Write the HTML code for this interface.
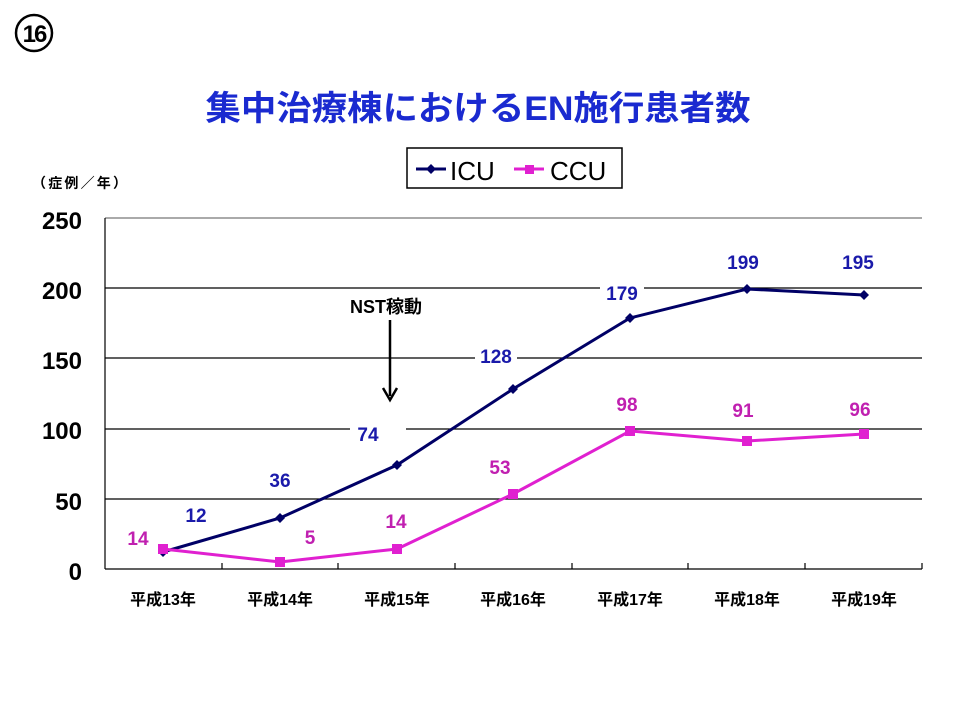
<!DOCTYPE html>
<html><head><meta charset="utf-8"><style>
body{margin:0;background:#fff;width:960px;height:720px;overflow:hidden}
svg{display:block}
text{font-family:"Liberation Sans","Noto Sans CJK JP",sans-serif}
</style></head><body>
<svg width="960" height="720" viewBox="0 0 960 720">
<circle cx="34" cy="33" r="18" fill="none" stroke="#000" stroke-width="2.5"/>
<text x="34" y="42" font-size="24" font-weight="bold" text-anchor="middle" letter-spacing="-2">16</text>
<text x="478" y="120" font-size="34" font-weight="bold" fill="#1a2ad0" text-anchor="middle" textLength="545" lengthAdjust="spacingAndGlyphs">集中治療棟におけるEN施行患者数</text>
<rect x="407" y="148" width="215" height="40" fill="#fff" stroke="#000" stroke-width="1.5"/>
<line x1="416" y1="169" x2="446" y2="169" stroke="#000066" stroke-width="3"/>
<path d="M431 164 L436 169 L431 174 L426 169Z" fill="#000066"/>
<text x="450" y="180" font-size="26" fill="#000">ICU</text>
<line x1="514" y1="169" x2="544" y2="169" stroke="#e020d0" stroke-width="3"/>
<rect x="525" y="165" width="9" height="9" fill="#e020d0"/>
<text x="550" y="180" font-size="26" fill="#000">CCU</text>
<text x="32" y="188" font-size="14" font-weight="bold" textLength="95">（症例／年）</text>
<g stroke="#000" stroke-width="1.2">
<line x1="105" y1="218" x2="922" y2="218" stroke="#777"/>
<line x1="105" y1="288" x2="922" y2="288"/>
<line x1="105" y1="358" x2="922" y2="358"/>
<line x1="105" y1="429" x2="922" y2="429"/>
<line x1="105" y1="499" x2="922" y2="499"/>
<line x1="105" y1="569" x2="922" y2="569"/>
<line x1="105" y1="218" x2="105" y2="569"/>
<line x1="222" y1="563" x2="222" y2="569"/><line x1="338" y1="563" x2="338" y2="569"/><line x1="455" y1="563" x2="455" y2="569"/><line x1="572" y1="563" x2="572" y2="569"/><line x1="688" y1="563" x2="688" y2="569"/><line x1="805" y1="563" x2="805" y2="569"/><line x1="922" y1="563" x2="922" y2="569"/>
</g>
<g font-size="24" font-weight="bold" text-anchor="end">
<text x="82" y="229">250</text><text x="82" y="299">200</text><text x="82" y="369">150</text><text x="82" y="439">100</text><text x="82" y="510">50</text><text x="82" y="580">0</text>
</g>
<g font-size="16" font-weight="bold" text-anchor="middle">
<text x="163" y="605">平成13年</text><text x="280" y="605">平成14年</text><text x="397" y="605">平成15年</text><text x="513" y="605">平成16年</text><text x="630" y="605">平成17年</text><text x="747" y="605">平成18年</text><text x="864" y="605">平成19年</text>
</g>
<g fill="#fff">
<rect x="178" y="500" width="36" height="26"/><rect x="350" y="420" width="56" height="26"/><rect x="475" y="342" width="42" height="26"/><rect x="600" y="280" width="44" height="24"/><rect x="720" y="248" width="46" height="24"/><rect x="838" y="248" width="48" height="24"/><rect x="320" y="293" width="120" height="26"/>
</g>
<text x="386" y="313" font-size="18" font-weight="bold" text-anchor="middle">NST稼動</text>
<line x1="390" y1="320" x2="390" y2="396" stroke="#000" stroke-width="2.5"/>
<path d="M383 388 L390 400 L397 388" fill="none" stroke="#000" stroke-width="2.5"/>
<polyline points="163,552 280,518 397,465 513,389 630,318 747,289 864,295" fill="none" stroke="#000066" stroke-width="3"/>
<g fill="#000066">
<path d="M163 547l5 5-5 5-5-5z"/><path d="M280 513l5 5-5 5-5-5z"/><path d="M397 460l5 5-5 5-5-5z"/><path d="M513 384l5 5-5 5-5-5z"/><path d="M630 313l5 5-5 5-5-5z"/><path d="M747 284l5 5-5 5-5-5z"/><path d="M864 290l5 5-5 5-5-5z"/>
</g>
<polyline points="163,549 280,562 397,549 513,494 630,431 747,441 864,434" fill="none" stroke="#e020d0" stroke-width="3"/>
<g fill="#e020d0">
<rect x="158" y="544" width="10" height="10"/><rect x="275" y="557" width="10" height="10"/><rect x="392" y="544" width="10" height="10"/><rect x="508" y="489" width="10" height="10"/><rect x="625" y="426" width="10" height="10"/><rect x="742" y="436" width="10" height="10"/><rect x="859" y="429" width="10" height="10"/>
</g>
<g font-size="19" font-weight="bold" fill="#1a1aaa" text-anchor="middle">
<text x="196" y="522">12</text><text x="280" y="487">36</text><text x="368" y="441">74</text><text x="496" y="363">128</text><text x="622" y="300">179</text><text x="743" y="269">199</text><text x="858" y="269">195</text>
</g>
<g font-size="19" font-weight="bold" fill="#c020b0" text-anchor="middle">
<text x="138" y="545">14</text><text x="310" y="544">5</text><text x="396" y="528">14</text><text x="500" y="474">53</text><text x="627" y="411">98</text><text x="743" y="417">91</text><text x="860" y="416">96</text>
</g>
</svg>
</body></html>
